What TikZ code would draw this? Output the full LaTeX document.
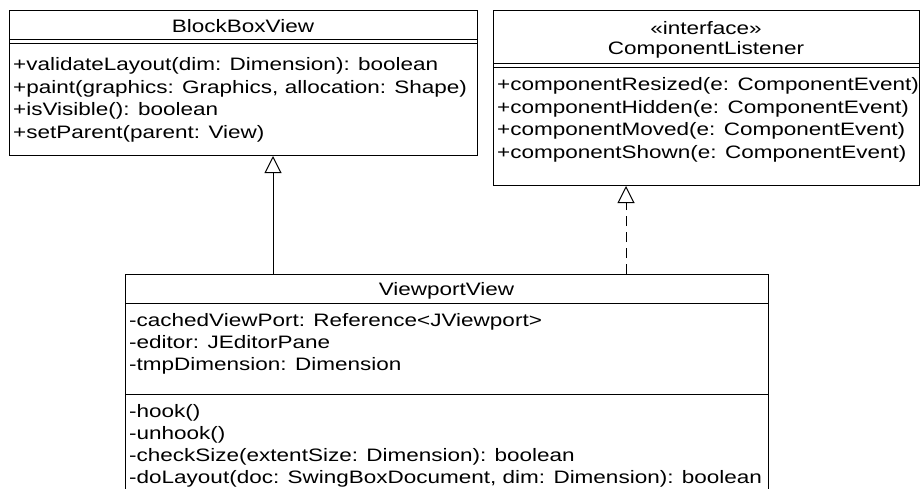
\documentclass[tikz,border=0pt]{standalone}
\usepackage{fontspec}
\setmainfont[FakeStretch=1.25]{Liberation Sans}
\usetikzlibrary{arrows.meta}
\begin{document}
\begin{tikzpicture}[x=1pt,y=-1pt,
  box/.style={draw=black,line width=1pt,fill=white,anchor=north west,inner sep=0pt},
  txt/.style={anchor=base west,inner sep=0pt,font=\fontsize{18}{21}\selectfont},
  ttl/.style={anchor=base,inner sep=0pt,font=\fontsize{18}{21}\selectfont},
  sep/.style={line width=1pt},
  inherit/.style={line width=1pt,-{Triangle[open,length=17pt,width=17pt,fill=white]}},
  realize/.style={inherit,dash pattern=on 10pt off 6pt}]
\useasboundingbox (0,0) rectangle (921,488);
\clip (0,0) rectangle (921,488);
% BlockBoxView
\node[box,minimum width=468pt,minimum height=145pt] (bbv) at (9,10) {};
\node[ttl] (bbvt) at (243,32.5) {BlockBoxView};
\draw[sep] (9,39.5) -- (477,39.5);
\draw[sep] (9,43) -- (477,43);
\node[txt] (b1) at (13,70.5) {+validateLayout(dim: Dimension): boolean};
\node[txt] (b2) at (13,93) {+paint(graphics: Graphics, allocation: Shape)};
\node[txt] (b3) at (13,115.5) {+isVisible(): boolean};
\node[txt] (b4) at (13,138) {+setParent(parent: View)};
% ComponentListener
\node[box,minimum width=426pt,minimum height=175pt] (cl) at (493,10) {};
\node[ttl] (clt1) at (706,34.5) {«interface»};
\node[ttl] (clt2) at (706,54.5) {ComponentListener};
\draw[sep] (493,63) -- (919,63);
\draw[sep] (493,67) -- (919,67);
\node[txt] (c1) at (497,90.5) {+componentResized(e: ComponentEvent)};
\node[txt] (c2) at (497,113) {+componentHidden(e: ComponentEvent)};
\node[txt] (c3) at (497,135.5) {+componentMoved(e: ComponentEvent)};
\node[txt] (c4) at (497,158) {+componentShown(e: ComponentEvent)};
% ViewportView
\node[box,minimum width=643pt,minimum height=230pt] (vv) at (125,274) {};
\node[ttl] (vvt) at (446.5,295) {ViewportView};
\draw[sep] (125,303) -- (768,303);
\node[txt] (v1) at (129,326) {-cachedViewPort: Reference<JViewport>};
\node[txt] (v2) at (129,348) {-editor: JEditorPane};
\node[txt] (v3) at (129,370) {-tmpDimension: Dimension};
\draw[sep] (125,394) -- (768,394);
\node[txt] (m1) at (129,417) {-hook()};
\node[txt] (m2) at (129,439) {-unhook()};
\node[txt] (m3) at (129,461) {-checkSize(extentSize: Dimension): boolean};
\node[txt] (m4) at (129,483) {-doLayout(doc: SwingBoxDocument, dim: Dimension): boolean};
% connectors
\coordinate (g1) at (273,274);
\coordinate (g2) at (626,274);
\draw[inherit] (g1) -- (g1 |- bbv.south);
\draw[realize] (g2) -- (g2 |- cl.south);
\end{tikzpicture}
\end{document}
